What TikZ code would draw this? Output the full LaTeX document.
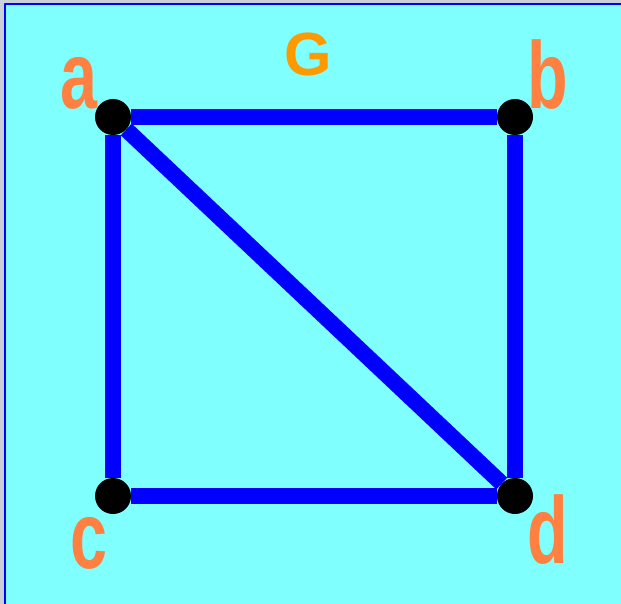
\documentclass[tikz,border=0pt]{standalone}
\usepackage{fontspec}
\setmainfont{Liberation Sans}
\definecolor{bgcyan}{HTML}{80FFFF}
\definecolor{framegray}{HTML}{C8D0D8}
\definecolor{vlabel}{HTML}{FF8040}
\definecolor{gtitle}{HTML}{FF9900}
\tikzset{
  vertex/.style={circle,fill=black,inner sep=0pt,minimum size=36pt},
  vname/.style={text=vlabel,inner sep=0pt,anchor=base,xscale=0.7,transform shape,
    font=\fontsize{95}{95}\selectfont\bfseries},
  edge/.style={draw=blue,line width=16pt}
}
\begin{document}
\begin{tikzpicture}[x=1pt,y=-1pt,line join=round]
\useasboundingbox (0,0) rectangle (621,604);
\fill[framegray] (0,0) rectangle (621,604);
\fill[bgcyan] (5,4) rectangle (622,605);
\draw[blue,line width=2pt] (5,605) -- (5,4) -- (622,4);
% vertices
\node[vertex] (a) at (113,117) {};
\node[vertex] (b) at (515,117) {};
\node[vertex] (c) at (113,496) {};
\node[vertex] (d) at (515,496) {};
% edges
\path[edge] (a) -- (b);
\path[edge] (a) -- (c);
\path[edge] (b) -- (d);
\path[edge] (c) -- (d);
\path[edge] (a) -- (d);
% names
\node[vname] (na) at (79,109) {a};
\node[vname] (nb) at (548,109) {b};
\node[vname] (nc) at (89,568) {c};
\node[vname] (nd) at (548,563) {d};
\node[text=gtitle,inner sep=0pt,anchor=base,font=\fontsize{61}{61}\selectfont\bfseries] (g) at (308,76) {G};
\end{tikzpicture}
\end{document}
